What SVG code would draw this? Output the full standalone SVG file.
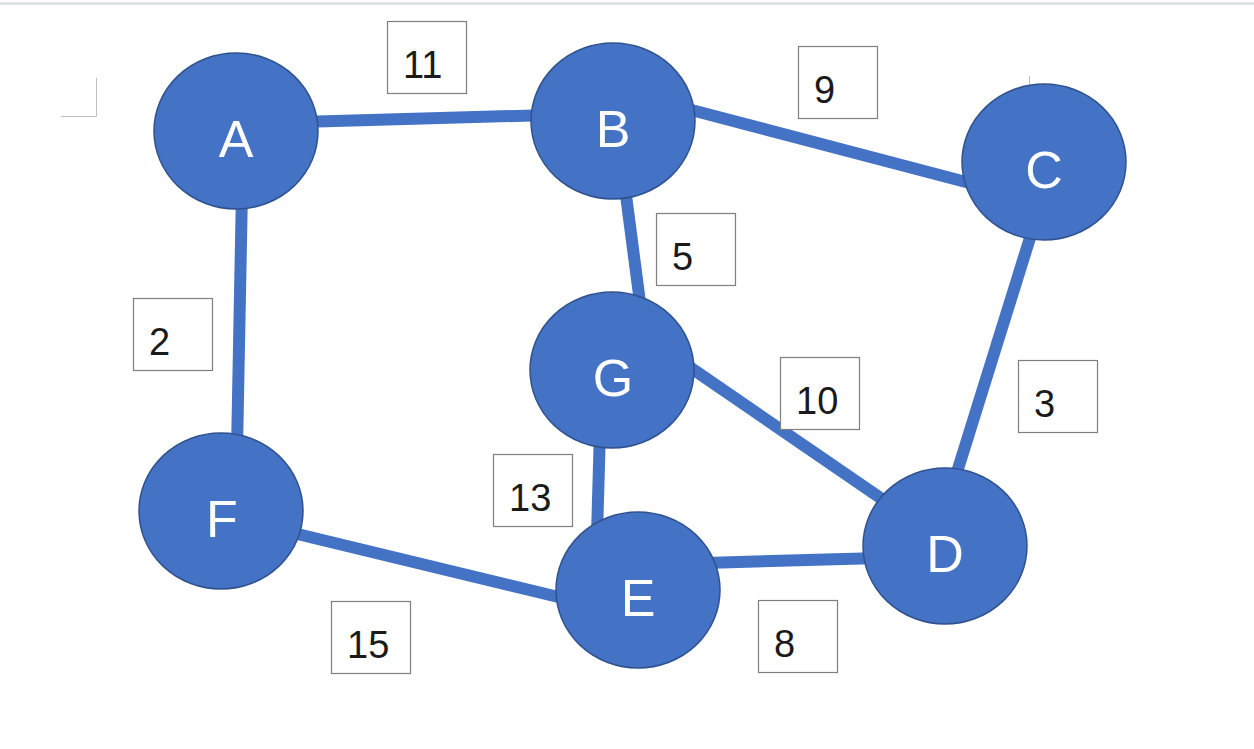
<svg xmlns="http://www.w3.org/2000/svg" width="1254" height="749" viewBox="0 0 1254 749">
<style>
.edge{stroke:#4472C4;stroke-width:12;fill:none;stroke-linecap:butt}
.node ellipse{fill:#4472C4;stroke:#2F528F;stroke-width:1.5}
.node text{fill:#ffffff;font-family:"Liberation Sans",Arial,sans-serif;font-size:52px;text-anchor:middle}
.lbl rect{fill:#ffffff;stroke:#7f7f7f;stroke-width:1.2}
.lbl text{fill:#1a1a1a;font-family:"Liberation Sans",Arial,sans-serif;font-size:38px}
.mark{stroke:#bfbfbf;stroke-width:1;fill:none}
</style>
<rect x="0" y="0" width="1254" height="749" fill="#ffffff"/>
<rect x="0" y="2" width="1254" height="3" fill="#dfe2e7"/>
<path class="mark" d="M61,116.5 H96.5 V78"/>
<path class="mark" d="M1029.5,76 V116.5 H1064"/>
<g id="connectors">
<line class="edge" x1="300" y1="122" x2="550" y2="115"/>
<line class="edge" x1="680" y1="107" x2="985" y2="187"/>
<line class="edge" x1="624" y1="180" x2="641" y2="310"/>
<line class="edge" x1="1034" y1="225" x2="953" y2="485"/>
<line class="edge" x1="678" y1="359" x2="895" y2="508"/>
<line class="edge" x1="600" y1="430" x2="597" y2="535"/>
<line class="edge" x1="242" y1="190" x2="237" y2="450"/>
<line class="edge" x1="285" y1="531" x2="575" y2="601"/>
<line class="edge" x1="705" y1="563" x2="880" y2="558"/>
</g>
<g id="node-A" class="node"><ellipse cx="236" cy="131" rx="82" ry="78"/><text x="236" y="157">A</text></g>
<g id="node-B" class="node"><ellipse cx="613" cy="121" rx="82" ry="78"/><text x="613" y="147">B</text></g>
<g id="node-C" class="node"><ellipse cx="1044" cy="162" rx="82" ry="78"/><text x="1044" y="188">C</text></g>
<g id="node-G" class="node"><ellipse cx="612" cy="370" rx="82" ry="78"/><text x="613" y="396">G</text></g>
<g id="node-F" class="node"><ellipse cx="221" cy="511" rx="82" ry="78"/><text x="222" y="537">F</text></g>
<g id="node-E" class="node"><ellipse cx="638" cy="590" rx="82" ry="78"/><text x="638" y="616">E</text></g>
<g id="node-D" class="node"><ellipse cx="945" cy="546" rx="82" ry="78"/><text x="945" y="572">D</text></g>
<g id="label-11" class="lbl"><rect x="387.5" y="21.5" width="79" height="72"/><text x="403" y="78">11</text></g>
<g id="label-9" class="lbl"><rect x="798.5" y="46.5" width="79" height="72"/><text x="814" y="103">9</text></g>
<g id="label-5" class="lbl"><rect x="656.5" y="213.5" width="79" height="72"/><text x="672" y="270">5</text></g>
<g id="label-2" class="lbl"><rect x="133.5" y="298.5" width="79" height="72"/><text x="149" y="355">2</text></g>
<g id="label-10" class="lbl"><rect x="780.5" y="357.5" width="79" height="72"/><text x="796" y="414">10</text></g>
<g id="label-3" class="lbl"><rect x="1018.5" y="360.5" width="79" height="72"/><text x="1034" y="417">3</text></g>
<g id="label-13" class="lbl"><rect x="493.5" y="454.5" width="79" height="72"/><text x="509" y="511">13</text></g>
<g id="label-15" class="lbl"><rect x="331.5" y="601.5" width="79" height="72"/><text x="347" y="658">15</text></g>
<g id="label-8" class="lbl"><rect x="758.5" y="600.5" width="79" height="72"/><text x="774" y="657">8</text></g>
</svg>
